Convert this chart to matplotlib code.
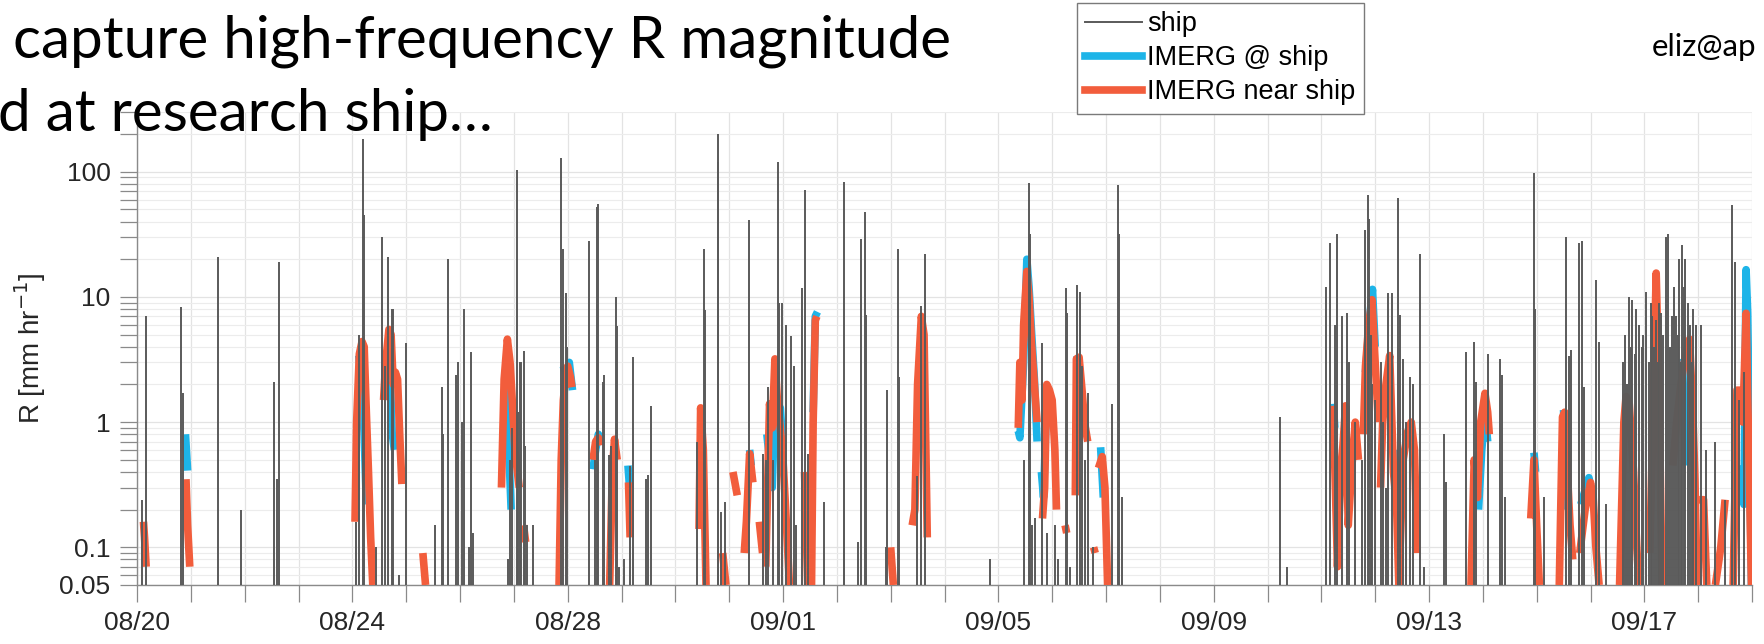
import os

os.environ.setdefault("MPLCONFIGDIR", "/tmp/matplotlib")

import numpy as np
import matplotlib.pyplot as plt
from matplotlib.lines import Line2D
from matplotlib.ticker import FixedLocator, LogLocator, NullFormatter, FixedFormatter

# time axis: days since 08/20 00:00
day_ticks = list(range(0, 31))
date_labels = ["08/20", "08/24", "08/28", "09/01", "09/05", "09/09", "09/13", "09/17"]
y_ticks = [0.05, 0.1, 1, 10, 100]
y_labels = ["0.05", "0.1", "1", "10", "100"]

# ship rain gauge spikes (day, peak R in mm/hr)
ship_spikes = [
    (0.10, 0.24), (0.17, 7.0), (0.81, 8.3), (0.86, 1.7), (1.51, 21), (1.93, 0.2),
    (2.54, 2.1), (2.60, 0.35), (2.63, 19), (4.07, 0.16), (4.13, 5), (4.19, 184),
    (4.21, 45), (4.44, 0.1), (4.56, 30), (4.61, 2.8), (4.67, 21), (4.74, 8), (4.76, 8),
    (4.87, 0.06), (4.99, 4.3), (5.54, 0.15), (5.67, 1.9), (5.69, 0.8), (5.77, 20),
    (5.92, 2.4), (5.97, 3.0), (6.04, 1.0), (6.08, 8), (6.17, 0.1), (6.20, 3.6),
    (6.25, 0.13), (6.89, 0.08), (6.93, 0.5), (6.97, 0.9), (7.05, 104), (7.08, 1.2),
    (7.11, 3.0), (7.14, 3.0), (7.18, 3.7), (7.21, 0.65), (7.24, 0.15), (7.36, 0.15),
    (7.88, 128), (7.92, 24), (7.97, 10.7), (7.99, 4),
    (8.39, 28), (8.51, 0.5), (8.54, 52), (8.57, 55), (8.65, 2.1), (8.67, 2.4),
    (8.77, 0.55), (8.80, 0.65), (8.89, 9.9), (8.91, 5.9), (8.96, 0.07), (9.05, 0.08),
    (9.16, 0.45), (9.22, 3.3), (9.46, 0.35), (9.50, 0.38), (9.55, 1.35), (10.41, 0.7),
    (10.53, 24), (10.55, 7.9), (10.79, 200), (10.80, 120), (10.85, 0.19), (10.93, 0.23),
    (11.36, 41), (11.62, 0.56), (11.68, 0.5), (11.73, 1.9), (11.81, 0.5), (11.91, 120),
    (11.93, 9), (11.99, 9), (12.06, 6), (12.14, 4.9), (12.21, 2.8), (12.24, 0.15),
    (12.35, 11.8), (12.41, 71), (12.46, 0.56), (12.76, 0.23), (13.13, 1.5), (13.14, 83),
    (13.39, 0.11), (13.44, 29), (13.52, 48), (13.55, 7.2), (13.91, 0.1), (13.94, 1.8),
    (14.13, 24), (14.15, 2.3), (14.49, 0.37), (14.56, 8.4), (14.63, 22), (15.85, 0.08),
    (16.48, 0.5), (16.57, 81), (16.59, 32), (16.63, 0.15), (16.68, 0.17), (16.82, 4.3),
    (16.90, 0.13), (17.05, 0.15), (17.11, 0.08), (17.25, 11.8), (17.28, 7.5),
    (17.33, 0.07), (17.47, 12.5), (17.51, 11), (17.56, 2.8), (17.61, 0.5), (17.67, 1.7),
    (17.76, 0.1), (18.12, 1.4), (18.22, 78), (18.24, 32), (18.29, 0.25), (21.23, 1.1),
    (21.36, 0.07), (22.09, 12), (22.17, 27), (22.25, 6), (22.29, 32), (22.39, 7),
    (22.47, 7.5), (22.52, 3.0), (22.62, 1.0), (22.75, 0.5), (22.82, 34), (22.87, 65),
    (22.89, 42), (22.92, 5), (22.95, 2), (23.00, 1.5), (23.10, 3), (23.15, 1),
    (23.20, 0.3), (23.24, 10.8), (23.31, 10.8), (23.43, 62), (23.46, 7.2), (23.52, 3.2),
    (23.58, 1.0), (23.65, 2.3), (23.70, 2.0), (23.83, 22), (23.90, 0.07),
    (24.28, 0.8), (24.31, 0.33), (24.68, 3.6), (24.84, 4.4), (24.88, 2.1), (25.09, 3.5),
    (25.32, 3.2), (25.35, 2.4), (25.41, 0.25), (25.95, 97), (25.97, 8), (26.14, 0.25),
    (26.54, 30), (26.60, 3.4), (26.63, 3.8), (26.79, 27), (26.84, 28), (26.88, 1.9),
    (27.10, 13.7), (27.15, 4.4), (27.29, 0.22), (27.60, 3), (27.65, 5), (27.68, 2),
    (27.72, 10), (27.75, 4), (27.78, 9.5), (27.82, 3.5), (27.85, 8), (27.90, 6),
    (27.95, 4), (27.98, 5), (28.03, 11), (28.08, 3), (28.12, 9), (28.15, 7), (28.18, 4),
    (28.21, 6.5), (28.25, 3), (28.28, 9), (28.31, 7.5), (28.35, 5), (28.40, 30),
    (28.44, 32), (28.48, 4), (28.52, 7), (28.55, 12), (28.59, 7), (28.62, 5),
    (28.65, 20), (28.68, 3), (28.70, 26), (28.73, 12), (28.76, 20), (28.81, 9),
    (28.85, 6), (28.88, 3), (28.91, 8), (28.96, 6), (29.05, 6), (29.15, 0.6),
    (29.32, 0.7), (29.49, 0.24), (29.63, 54), (29.68, 19), (29.75, 1.5), (29.85, 2.5),
]

# IMERG pixel containing the ship (None = gap between rain events)
imerg_at_ship = [
    (0.90, 0.8), (0.94, 0.41), None,
    (4.12, 3.4), (4.16, 2.2), (4.22, 0.8), (4.26, 0.22), None,
    (4.68, 5.0), (4.74, 0.82), (4.78, 0.6), None,
    (6.88, 3.8), (6.91, 0.55), (6.95, 0.2), None,
    (7.92, 2.8), (7.97, 2.3), (8.03, 3.0), (8.09, 1.8), None,
    (8.47, 0.42), (8.52, 0.6), (8.57, 0.8), (8.60, 0.75), None,
    (9.12, 0.45), (9.15, 0.3), None,
    (11.38, 0.6), (11.41, 0.45), None,
    (11.70, 0.8), (11.75, 0.5), (11.80, 0.3), (11.85, 1.5), (11.90, 1.0), (11.95, 1.3), (12.00, 0.6), None,
    (12.56, 1.2), (12.60, 7.0), (12.64, 7.6), None,
    (16.37, 0.85), (16.40, 0.75), (16.47, 3), (16.53, 20), (16.57, 12), (16.62, 5), (16.67, 2.2), (16.72, 0.7), None,
    (16.80, 0.4), (16.84, 0.25), (16.90, 1.7), (16.95, 1.6), None,
    (17.46, 3.4), (17.52, 2.5), (17.56, 2.5), None,
    (17.90, 0.63), (17.95, 0.25), None,
    (22.22, 1.4), (22.25, 0.9), None,
    (22.82, 2.5), (22.90, 7), (22.95, 11.5), (23.00, 4), None,
    (23.36, 0.6), (23.42, 0.22), None,
    (24.92, 0.2), (24.98, 0.6), (25.04, 1.2), (25.09, 0.7), None,
    (25.95, 0.57), (25.98, 0.4), None,
    (26.50, 1.25), (26.55, 0.2), None,
    (26.82, 0.22), (26.97, 0.36), (27.01, 0.3), None,
    (28.71, 3.2), (28.76, 0.45), None,
    (29.83, 0.45), (29.85, 0.22), (29.89, 16.5), (29.92, 7.4), (29.99, 0.05),
]

# IMERG pixels near the ship
imerg_near_ship = [
    (0.12, 0.16), (0.14, 0.12), (0.17, 0.07), None,
    (0.91, 0.35), (0.94, 0.15), (0.98, 0.07), None,
    (4.05, 0.16), (4.08, 1.0), (4.13, 3.5), (4.18, 4.4), (4.22, 4.0), (4.26, 1.2), (4.30, 0.4), (4.34, 0.12), (4.38, 0.05), None,
    (4.58, 1.5), (4.62, 3.0), (4.68, 5.5), (4.72, 5.0), (4.76, 2.0), (4.80, 2.5), (4.84, 2.2), (4.88, 0.8), (4.92, 0.32), None,
    (5.31, 0.09), (5.36, 0.05), None,
    (6.77, 0.3), (6.82, 2.2), (6.88, 4.6), (6.93, 3.0), (6.97, 1.5), (7.02, 0.6), (7.10, 0.3), None,
    (7.18, 0.15), (7.22, 0.11), None,
    (7.84, 0.05), (7.88, 0.5), (7.92, 1.5), (7.97, 2.5), (8.00, 2.8), (8.05, 2.3), (8.08, 1.9), None,
    (8.47, 0.5), (8.52, 0.7), (8.57, 0.75), (8.60, 0.65), None,
    (8.78, 0.05), (8.83, 0.4), (8.87, 0.73), (8.92, 0.5), None,
    (9.13, 0.33), (9.16, 0.12), None,
    (10.44, 0.14), (10.47, 1.3), (10.52, 0.6), (10.57, 0.05), None,
    (10.88, 0.09), (10.94, 0.05), None,
    (11.07, 0.4), (11.15, 0.26), None,
    (11.28, 0.09), (11.32, 0.16), (11.38, 0.56), (11.44, 0.33), None,
    (11.56, 0.16), (11.62, 0.09), None,
    (11.68, 0.07), (11.75, 1.4), (11.80, 0.9), (11.85, 3.2), (11.90, 1.4), (11.95, 0.9), (12.00, 0.5), (12.05, 0.2), (12.12, 0.05), None,
    (12.40, 0.4), (12.46, 0.05), None,
    (12.53, 0.05), (12.56, 1.0), (12.60, 6.5), (12.63, 7.0), None,
    (14.00, 0.1), (14.05, 0.05), None,
    (14.40, 0.15), (14.45, 0.2), (14.50, 2.0), (14.57, 7.0), (14.62, 5.0), (14.68, 0.12), None,
    (16.37, 0.9), (16.40, 3.0), (16.44, 1.5), (16.47, 6), (16.53, 16), (16.57, 10), (16.62, 4), (16.67, 2), (16.72, 1.0), None,
    (16.82, 0.17), (16.86, 0.3), (16.90, 2.0), (16.95, 1.8), (17.00, 1.5), (17.05, 0.6), (17.08, 0.2), None,
    (17.24, 0.15), (17.27, 0.13), None,
    (17.43, 0.26), (17.45, 3.2), (17.50, 3.3), (17.56, 1.7), (17.60, 1.0), (17.66, 0.7), None,
    (17.77, 0.1), (17.80, 0.09), None,
    (17.86, 0.43), (17.93, 0.53), (17.98, 0.3), (18.03, 0.05), None,
    (22.22, 1.35), (22.26, 0.3), (22.30, 0.07), (22.35, 0.3), (22.45, 1.35), (22.50, 0.15), (22.56, 0.4), (22.63, 1.0), (22.69, 0.5), None,
    (22.78, 0.8), (22.82, 2.8), (22.88, 6), (22.94, 9.5), (23.00, 3), (23.06, 1.0), None,
    (23.10, 0.3), (23.14, 1.0), (23.20, 2.0), (23.27, 3.4), (23.34, 0.4), (23.40, 0.2), (23.44, 0.05), (23.52, 0.5), (23.60, 0.83), (23.67, 1.0), (23.73, 0.6), (23.78, 0.09), None,
    (24.78, 0.05), (24.84, 0.5), (24.90, 0.25), (24.96, 1.0), (25.04, 1.7), (25.09, 1.2), (25.12, 0.8), None,
    (25.89, 0.17), (25.95, 0.5), (26.00, 0.15), (26.05, 0.05), None,
    (26.42, 0.05), (26.48, 1.1), (26.52, 1.2), (26.57, 0.4), (26.62, 0.15), (26.67, 0.08), None,
    (26.80, 0.09), (26.90, 0.2), (27.00, 0.33), (27.05, 0.25), (27.10, 0.1), (27.16, 0.05), None,
    (27.54, 0.05), (27.62, 1.0), (27.66, 1.6), (27.72, 1.4), (27.80, 0.4), (27.86, 0.1), (27.90, 0.05), None,
    (28.10, 0.09), (28.16, 1.0), (28.22, 15.5), (28.27, 2.0), (28.33, 0.05), None,
    (28.53, 0.45), (28.60, 1.0), (28.68, 2.0), (28.74, 3.0), (28.84, 4.6), (28.90, 1.2), (28.94, 0.35), (28.98, 0.05), None,
    (29.02, 0.24), (29.10, 0.24), (29.16, 0.05), None,
    (29.32, 0.05), (29.42, 0.1), (29.50, 0.24), None,
    (29.65, 0.05), (29.72, 1.8), (29.78, 1.8), (29.83, 1.0), (29.89, 7.4), (29.99, 0.05),
]

SHIP_COLOR = "#5a5a5a"
AT_SHIP_COLOR = "#1db4e8"
NEAR_COLOR = "#f25d3c"


def to_xy(points):
    x = [np.nan if p is None else p[0] for p in points]
    y = [np.nan if p is None else p[1] for p in points]
    return np.array(x), np.array(y)


plt.rcParams["font.family"] = ["Liberation Sans", "DejaVu Sans"]

fig = plt.figure(figsize=(17.65, 6.44), dpi=100)
ax = fig.add_axes([137 / 1765, 59 / 644, (1752 - 137) / 1765, (585 - 112) / 644])

ship_day = np.array([s[0] for s in ship_spikes])
ship_rate = np.array([s[1] for s in ship_spikes])
ax.vlines(ship_day, 0.01, ship_rate, color=SHIP_COLOR, lw=1.4, zorder=4)

x, y = to_xy(imerg_at_ship)
ax.plot(x, y, color=AT_SHIP_COLOR, lw=5.5, solid_capstyle="butt", zorder=2)
x, y = to_xy(imerg_near_ship)
ax.plot(x, y, color=NEAR_COLOR, lw=5.5, solid_capstyle="butt", zorder=3)

ax.set_yscale("log")
ax.set_ylim(0.05, 300)
ax.set_xlim(0, 30)

ax.yaxis.set_major_locator(FixedLocator(y_ticks))
ax.yaxis.set_major_formatter(FixedFormatter(y_labels))
ax.yaxis.set_minor_locator(LogLocator(base=10, subs=np.arange(2, 10), numticks=20))
ax.yaxis.set_minor_formatter(NullFormatter())

ax.xaxis.set_major_locator(FixedLocator(day_ticks))
ax.set_xticklabels([date_labels[d // 4] if d % 4 == 0 and d // 4 < len(date_labels) else "" for d in day_ticks])

ax.grid(True, which="major", color="#e3e3e3", lw=0.9, zorder=0)
ax.grid(True, which="minor", axis="y", color="#ececec", lw=0.8, zorder=0)
ax.set_axisbelow(True)

for side in ("top", "right"):
    ax.spines[side].set_visible(False)
for side in ("left", "bottom"):
    ax.spines[side].set_color("#8a8a8a")
    ax.spines[side].set_linewidth(1.0)

ax.tick_params(which="both", direction="out", length=12, width=0.9, color="#8a8a8a",
               labelsize=19, labelcolor="#262626", pad=7)
ax.set_ylabel("R [mm hr$^{-1}$]", fontsize=20, color="#262626", labelpad=8)

handles = [
    Line2D([], [], color=SHIP_COLOR, lw=1.4),
    Line2D([], [], color=AT_SHIP_COLOR, lw=5.5),
    Line2D([], [], color=NEAR_COLOR, lw=5.5),
]
leg = fig.legend(handles, ["ship", "IMERG @ ship", "IMERG near ship"],
                 loc="upper left", bbox_to_anchor=(1077 / 1765, 1 - 3 / 644),
                 fontsize=19.5, frameon=True, fancybox=False, framealpha=1,
                 edgecolor="#7a7a7a", handlelength=2.1, handletextpad=0.2,
                 borderpad=0.3, labelspacing=0.3, borderaxespad=0)
leg.get_frame().set_linewidth(1.0)
leg.set_zorder(10)

title_font = ["Lato", "DejaVu Sans"]
fig.text(13 / 1765, 1 - 57 / 644, "capture high-frequency R magnitude",
         fontsize=42, family=title_font, va="baseline", ha="left", zorder=20)
fig.text(-2 / 1765, 1 - 131 / 644, "d at research ship…",
         fontsize=42, family=title_font, va="baseline", ha="left", zorder=20)
fig.text(1652 / 1765, 1 - 56 / 644, "eliz@ap", fontsize=22.5, family=title_font,
         va="baseline", ha="left", zorder=20)

fig.savefig("out.png", dpi=100)
plt.close(fig)
